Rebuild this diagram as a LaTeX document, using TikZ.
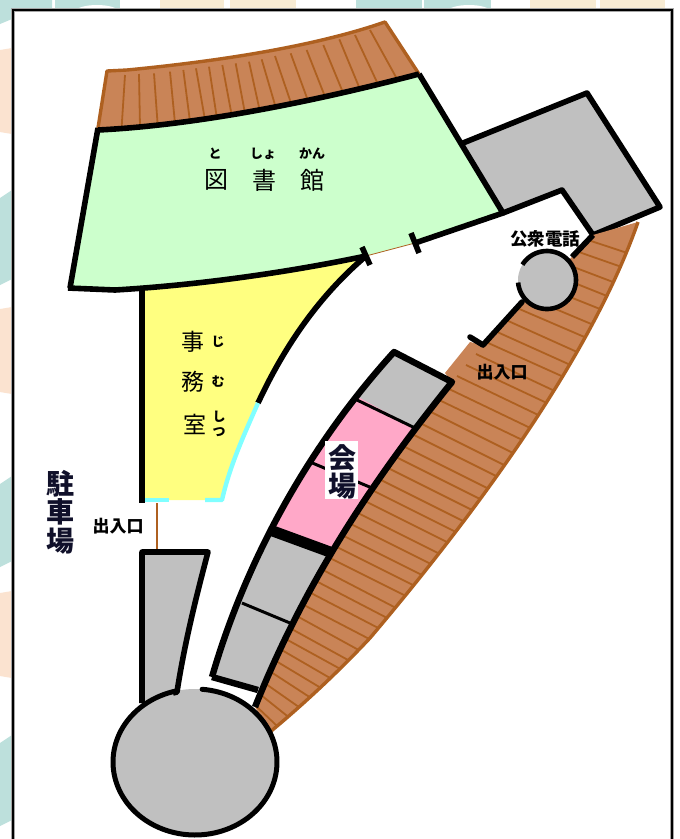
\documentclass[tikz,border=0pt]{standalone}
\usepackage{fontspec}
\newfontfamily\jp{Noto Sans CJK JP}
\definecolor{teal0}{HTML}{BDE0DC}
\definecolor{peach0}{HTML}{FBE3D0}
\definecolor{sand0}{HTML}{F8ECD4}
\definecolor{roofb}{HTML}{C98457}
\definecolor{roofl}{HTML}{AE6020}
\definecolor{libg}{HTML}{CCFFCC}
\definecolor{offy}{HTML}{FFFF80}
\definecolor{cyan0}{HTML}{80FFFF}
\definecolor{gray0}{HTML}{C0C0C0}
\definecolor{pink0}{HTML}{FFA8C8}
\definecolor{navy0}{HTML}{10102A}
\tikzset{
  wall/.style={draw=black,line width=5.6pt,line join=round},
  wallthin/.style={draw=black,line width=3pt},
  hatchline/.style={draw=roofl,line width=1.8pt},
  door/.style={draw=roofl,line width=0.8pt},
  kanji/.style={font=\jp\fontsize{24}{24}\selectfont,inner sep=0pt},
  kanjis/.style={font=\jp\fontsize{23}{23}\selectfont,inner sep=0pt},
  kana/.style={font=\jp\bfseries\fontsize{13}{13}\selectfont,inner sep=0pt},
  lab/.style={font=\jp\bfseries\fontsize{17}{17}\selectfont,inner sep=0pt},
  big/.style={font=\jp\bfseries\fontsize{28}{28}\selectfont,inner sep=0pt,text=navy0},
}
\begin{document}
\begin{tikzpicture}[x=1pt,y=-1pt]
\clip (0,0) rectangle (680,839);
\fill[white] (0,0) rectangle (680,839);
% background tiles
\fill[teal0] (0,0) -- (52,0) -- (52,10) -- (12,10) -- (12,19) -- (0,24) -- cycle;
\fill[teal0] (55,0) rectangle (120,10);
\fill[sand0] (160,0) rectangle (224,10);
\fill[sand0] (230,0) rectangle (296,10);
\fill[teal0] (356,0) rectangle (422,10);
\fill[teal0] (424,0) rectangle (491,10);
\fill[sand0] (530,0) rectangle (596,10);
\fill[sand0] (600,0) rectangle (665,10);
\fill[white] (97,12) ellipse (22 and 7);
\fill[white] (469,12) ellipse (22 and 7);
\fill[peach0] (0,50) -- (12,48) -- (12,134) -- (0,132) -- cycle;
\fill[teal0] (0,198) -- (12,190) -- (12,279) -- (0,285) -- cycle;
\fill[peach0] (0,309) -- (12,307) -- (12,394) -- (0,392) -- cycle;
\fill[teal0] (0,484) -- (12,476) -- (12,561) -- (0,567) -- cycle;
\fill[peach0] (0,593) -- (12,591) -- (12,678) -- (0,676) -- cycle;
\fill[teal0] (0,743) -- (12,735) -- (12,820) -- (0,826) -- cycle;
% frame
\draw[gray!70,line width=4pt,fill=white] (13,10) rectangle (672,900);
\draw[black,line width=2.4pt] (13,10) rectangle (672,900);
% library roof
\path[fill=roofb] (98,130) -- (107,71) -- (127,70) .. controls (210,62) and (310,48) .. (385,22) -- (419,74) .. controls (320,100) and (200,125) .. (98,130) -- cycle;
\foreach \a/\b/\c/\d in {185/380/195/225,240/380/237/222,293/375/282/220,345/370/330/215,390/365/370/210,435/360/408/205,470/350/447/200,515/345/487/195,555/340/527/190,600/335/567/185,648/325/605/178,695/315/645/168,745/305/692/160,797/295/740/150,850/280/790/135,900/268/838/118,955/255/885/105,1010/235/930/90}
  \draw[hatchline] ({60+\a/3},{\b/3}) -- ({60+\c/3},{\d/3});
\draw[roofl,line width=3.4pt,line join=round] (98,128) -- (107,71) -- (127,70) .. controls (210,62) and (310,48) .. (385,22) -- (419,74);
% office
\path[fill=offy] (142,288) -- (366,256) .. controls (320,295) and (285,345) .. (258,403) .. controls (244,435) and (230,465) .. (222,500) -- (142,500) -- cycle;
% library
\path[fill=libg] (98,130) -- (68,288) -- (115,290) .. controls (200,285) and (290,272) .. (366,256) -- (415,243) -- (503,213) -- (419,74) .. controls (320,100) and (200,125) .. (98,130) -- cycle;
\coordinate (t1a) at (362,247); \coordinate (t1b) at (370,265);
\coordinate (t2a) at (411,233); \coordinate (t2b) at (419,253);
\coordinate (t1m) at (366,256); \coordinate (t2m) at (415,243);
\draw[door] (t1m) -- (t2m);
\draw[wall] (t1a) -- (t1b);
\draw[wall] (t2a) -- (t2b);
% gray service block
\path[fill=gray0] (463,143) -- (587,93) -- (660,207) -- (593,235) -- (562,190) -- (503,213) -- cycle;
\draw[wall] (t2m) -- (503,213) -- (419,74);
\draw[wall] (503,213) -- (562,190) -- (593,235) -- (660,207) -- (587,93) -- (463,143);
\draw[wall] (98,130) .. controls (200,125) and (320,100) .. (419,74);
\draw[wall] (98,128) -- (70,288);
\draw[wall] (68,288) -- (115,290) .. controls (200,285) and (290,272) .. (366,256);
% office walls
\draw[wall] (142,290) -- (142,503);
\draw[wall] (258,403) .. controls (285,345) and (320,295) .. (366,256);
\draw[cyan0,line width=4.4pt] (145,500) -- (169,500);
\draw[cyan0,line width=4.4pt,line join=round] (205,500) -- (222,500) .. controls (230,465) and (244,435) .. (258,403);
\coordinate (d1a) at (157,503); \coordinate (d1b) at (157,549);
\draw[roofl,line width=2pt] (d1a) -- (d1b);
% long brown deck
\begin{scope}
\path[clip] (270,732) .. controls (305,703) and (340,670) .. (370,638) .. controls (470,520) and (590,360) .. (638,222) -- (593,235) -- (572,257) -- (547,280) -- (522,302) -- (483,345) -- (470,342) -- (445,373) -- (452,382) .. controls (385,465) and (310,570) .. (255,707) -- cycle;
\fill[roofb] (200,200) rectangle (660,760);
\foreach \y/\x/\s in {240/588/.33,251/576/.35,263/563/.38,274/552/.4,285/540/.4,297/527/.42,308/517/.43,320/506/.45,331/495/.45,342/486/.45,354/476/.47,365/466/.47,376/457/.48,388/447/.48,399/437/.48,410/427/.5,422/418/.5,433/410/.5,445/401/.5,456/394/.5,467/386/.5,479/379/.5,490/372/.5,501/365/.5,513/358/.5,524/351/.5,536/344/.5,547/337/.5,558/330/.5,570/323/.52,581/316/.52,592/309/.52,604/302/.52,615/295/.55,627/288/.55,638/284/.55,649/280/.58,661/276/.6,672/271/.65,684/266/.7,695/261/.8,706/256/.95}
  \draw[hatchline] (\x,\y) -- ({\x+240},{\y+240*\s});
\end{scope}
\draw[roofl,line width=3.4pt] (270,732) .. controls (305,703) and (340,670) .. (370,638) .. controls (470,520) and (590,360) .. (638,222);
% phone booth
\draw[wall,line cap=round] (470,337) -- (483,345) -- (522,302);
\draw[wall] (572,257) -- (593,235);
\fill[gray0] (547,280) circle (29);
\draw[black,line width=4.6pt] plot[domain=148:-175,samples=60] ({547+29*cos(\x)},{280-29*sin(\x)});
% venue building
\path[fill=gray0] (394,352) -- (452,382) -- (413,428) -- (357,400) -- cycle;
\path[fill=pink0] (358,397) -- (415,428) -- (373,488) -- (333,553) -- (268,530) -- (277,517) -- (302,475) -- (328,434) -- cycle;
\path[fill=gray0] (268,530) -- (333,553) -- (290,623) -- (258,690) -- (212,677) -- (238,603) -- cycle;
\draw[wallthin] (357,400) -- (415,428);
\draw[wallthin] (310,462) -- (372,488);
\draw[wallthin] (242,603) -- (290,623);
\draw[black,line width=11pt] (270,530) -- (330,552);
\draw[line width=6.4pt,line join=round,draw=black] (212,677) .. controls (240,580) and (296,460) .. (394,352) -- (452,382) .. controls (385,465) and (310,570) .. (255,707);
\draw[line width=6.4pt,line join=round,draw=black] (212,677) -- (258,690);
% parking
\path[fill=gray0] (142,552) -- (208,552) -- (190,617) -- (177,692) -- (142,703) -- cycle;
\fill[gray0] (195,762) ellipse (82 and 73);
\draw[wall] (142,703) -- (142,552) -- (208,552) .. controls (198,590) and (185,640) .. (177,692) -- (173,693);
\draw[black,line width=5pt,line cap=round] plot[domain=85:-257,samples=120] ({195+82*cos(\x)},{762-73*sin(\x)});
% labels
\node[kanji] (zu) at (216,180) {図};
\node[kanji] (sho) at (264,180) {書};
\node[kanji] (kan) at (312,180) {館};
\node[kana] (fto) at (215,154) {と};
\node[kana] (fsho) at (263,154) {しょ};
\node[kana] (fkan) at (312,154) {かん};
\node[kanjis] (ji) at (193,342) {事};
\node[kanjis] (mu) at (193,382) {務};
\node[kanjis] (shitsu) at (195,424) {室};
\node[kana] (fji) at (218,342) {じ};
\node[kana] (fmu) at (218,382) {む};
\node[kana] (fshi) at (219,417) {し};
\node[kana] (ftsu) at (219,432) {つ};
\node[big] (chu) at (60,484) {駐};
\node[big] (sha) at (60,512) {車};
\node[big] (jo) at (60,541) {場};
\node[lab] (e1) at (118,526) {出入口};
\node[lab] (e2) at (502,372) {出入口};
\node[lab,font=\jp\bfseries\fontsize{17.5}{17.5}\selectfont] (tel) at (545,239) {公衆電話};
\fill[white] (325,441) rectangle (358,499);
\node[big] (kai) at (342,458) {会};
\node[big] (ba) at (342,486) {場};
\end{tikzpicture}
\end{document}
